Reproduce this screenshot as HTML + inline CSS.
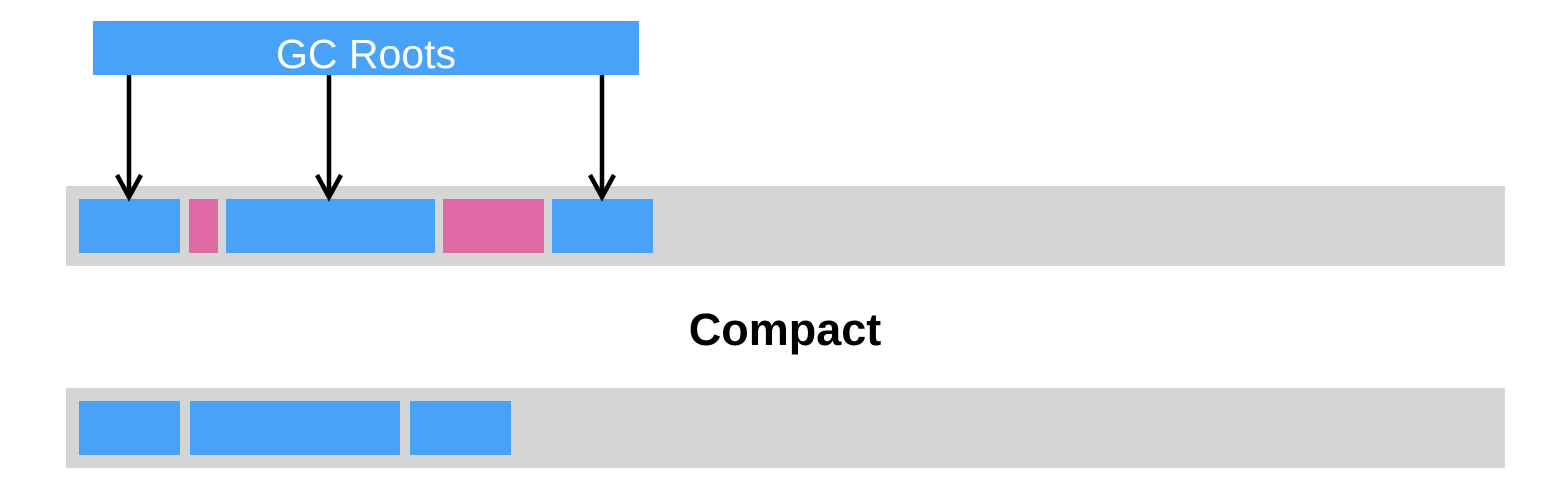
<!DOCTYPE html>
<html><head><meta charset="utf-8"><style>
html,body{margin:0;padding:0;background:#fff;width:1548px;height:496px;overflow:hidden}
</style></head><body>
<svg width="1548" height="496" viewBox="0 0 1548 496" xmlns="http://www.w3.org/2000/svg">
<rect x="93" y="21" width="546" height="54" fill="#47a2f8"/>
<text x="366" y="68" text-anchor="middle" fill="#fff" font-family="Liberation Sans, sans-serif" font-size="41">GC Roots</text>
<rect x="66" y="186" width="1439" height="80" fill="#d5d5d5"/>
<rect x="79" y="199" width="101" height="54" fill="#47a2f8"/>
<rect x="189" y="199" width="29" height="54" fill="#df6aa5"/>
<rect x="226" y="199" width="209" height="54" fill="#47a2f8"/>
<rect x="443" y="199" width="101" height="54" fill="#df6aa5"/>
<rect x="552" y="199" width="101" height="54" fill="#47a2f8"/>
<g stroke="#000" stroke-width="4.5" fill="none" stroke-linecap="butt">
<g><line x1="129" y1="75" x2="129" y2="196"/><polyline points="117,175 129,197 141,175"/></g>
<g><line x1="329" y1="75" x2="329" y2="196"/><polyline points="317,175 329,197 341,175"/></g>
<g><line x1="602" y1="75" x2="602" y2="196"/><polyline points="590,175 602,197 614,175"/></g>
</g>
<text x="785" y="345" text-anchor="middle" fill="#000" font-family="Liberation Sans, sans-serif" font-weight="bold" font-size="45">Compact</text>
<rect x="66" y="388" width="1439" height="80" fill="#d5d5d5"/>
<rect x="79" y="401" width="101" height="54" fill="#47a2f8"/>
<rect x="190" y="401" width="210" height="54" fill="#47a2f8"/>
<rect x="410" y="401" width="101" height="54" fill="#47a2f8"/>
</svg>
</body></html>
